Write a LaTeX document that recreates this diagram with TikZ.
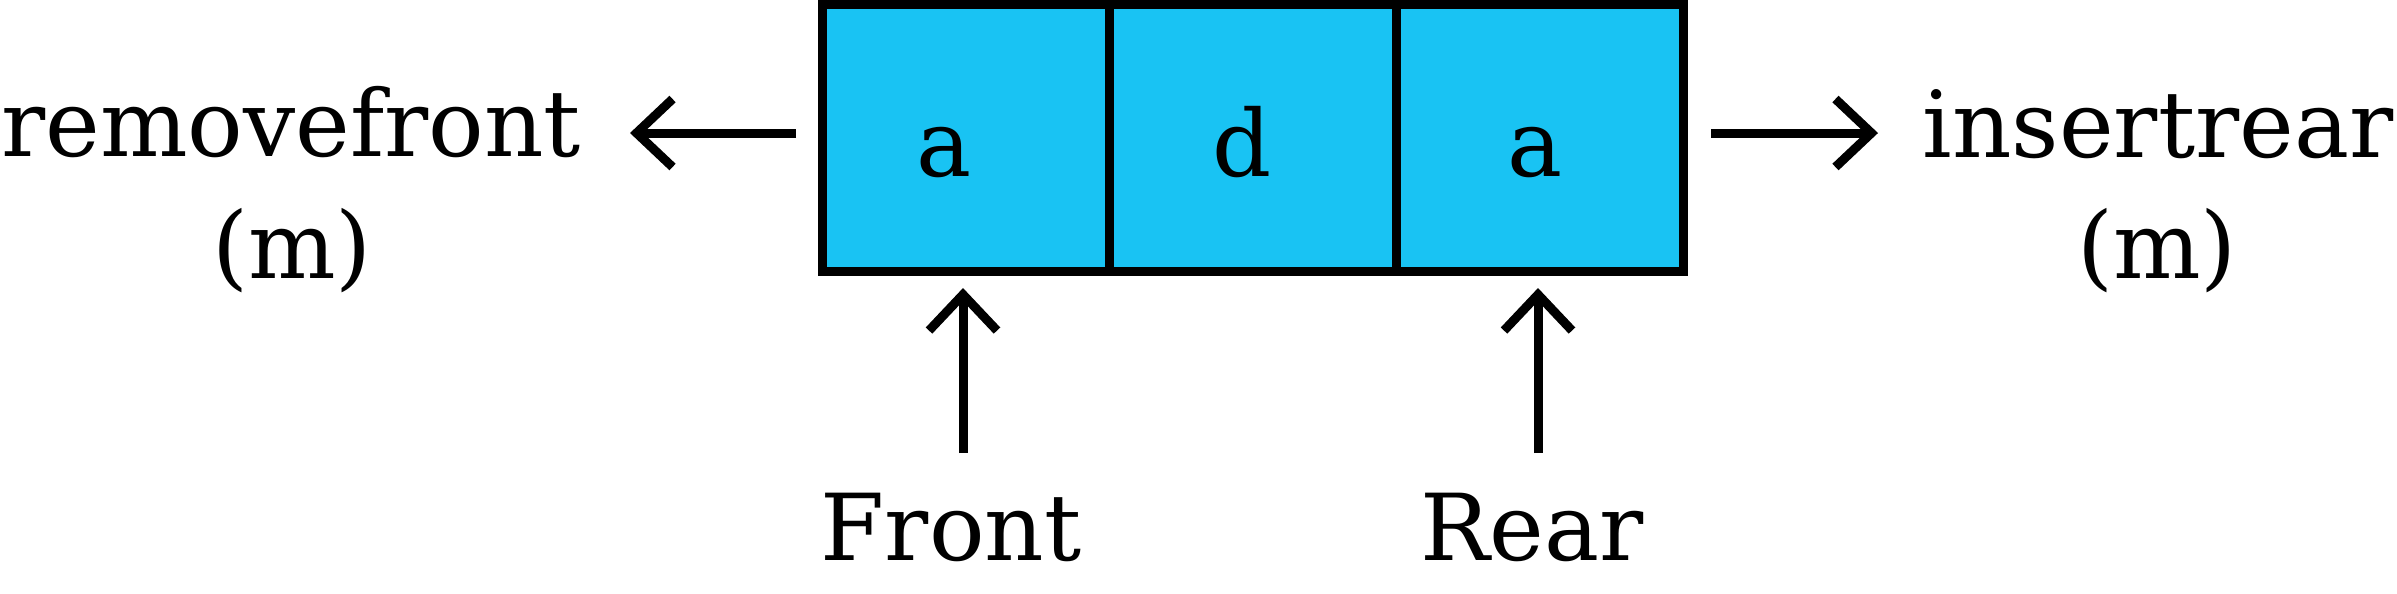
\documentclass[tikz,border=0pt]{standalone}
\usepackage{fontspec}
\setmainfont{DejaVu Serif}
\usetikzlibrary{arrows.meta}
\definecolor{cellblue}{RGB}{25,195,243}
\begin{document}
\begin{tikzpicture}[x=0.25pt,y=-0.25pt,
  every node/.style={font=\fontsize{23.1}{28}\selectfont, inner sep=0pt},
  cell/.style={draw, fill=cellblue, line width=2.25pt, minimum width=71.75pt, minimum height=66.875pt, inner sep=0pt},
  arr/.style={line width=2.25pt, -{Straight Barb[length=9pt,width=17pt]}},
  lbl/.style={anchor=base}]
\useasboundingbox (0,0) rectangle (2397,593);
% cells
\node[cell] (c1) at (966,137.75) {};
\node[cell] (c2) at (1253,137.75) {};
\node[cell] (c3) at (1540,137.75) {};
% cell letters
\node[lbl] (l1) at (944,176) {a};
\node[lbl] (l2) at (1242,176) {d};
\node[lbl] (l3) at (1535,176) {a};
% labels
\node[lbl] (rf) at (291,156) {removefront};
\node[lbl] (rfm) at (292,278) {(m)};
\node[lbl] (ir) at (2158,157) {insertrear};
\node[lbl] (irm) at (2157,278) {(m)};
\node[lbl] (fr) at (951,560) {Front};
\node[lbl] (re) at (1532,560) {Rear};
% arrow end points
\coordinate (rmtail) at (796,133);
\coordinate (rmtip) at (630,133);
\coordinate (intail) at (1711,133);
\coordinate (intip) at (1878,133);
\coordinate (frtail) at (963,453);
\coordinate (frtip) at (963,288);
\coordinate (retail) at (1538,453);
\coordinate (retip) at (1538,288);
\draw[arr] (rmtail) -- (rmtip);
\draw[arr] (intail) -- (intip);
\draw[arr] (frtail) -- (frtip);
\draw[arr] (retail) -- (retip);
\end{tikzpicture}
\end{document}
